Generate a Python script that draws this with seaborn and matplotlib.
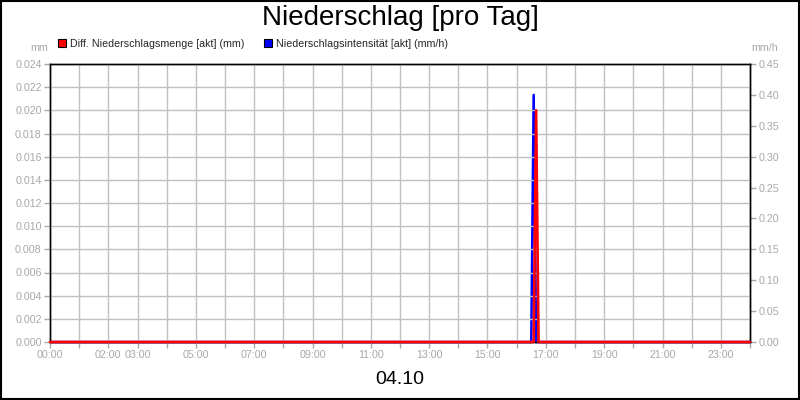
import matplotlib
matplotlib.use("Agg")
import matplotlib.pyplot as plt
import seaborn as sns
import pandas as pd
from matplotlib.patches import Patch, Rectangle

# ---- data ----
time_h = [0.0, 16.5, 16.5833, 16.6667, 16.75, 24.0]          # hours of day 04.10
menge_mm = [0.0, 0.0, 0.0, 0.020, 0.0, 0.0]                   # Diff. Niederschlagsmenge [akt] (mm)
intens_mmh = [0.0, 0.0, 0.40, 0.0, 0.0, 0.0]                  # Niederschlagsintensität [akt] (mm/h)
tick_hours = list(range(0, 25))
label_hours = [0, 2, 3, 5, 7, 9, 11, 13, 15, 17, 19, 21, 23]
left_ticks = [i * 0.002 for i in range(13)]
right_ticks = [i * 0.05 for i in range(10)]

df = pd.DataFrame({"t": time_h, "menge": menge_mm, "intens": intens_mmh})

sns.set_theme(style="white")
plt.rcParams["font.family"] = ["Liberation Sans", "DejaVu Sans"]

GRAY = "#a8a8a8"
FS = 7.7
fig = plt.figure(figsize=(8, 4), dpi=100)
ax = fig.add_axes([50/800, 1 - 342/400, 700/800, 278/400])
ax2 = ax.twinx()

sns.lineplot(data=df, x="t", y="intens", ax=ax2, color="#0000ff", lw=1.8)
sns.lineplot(data=df, x="t", y="menge", ax=ax, color="#ff0000", lw=1.9)
for ln in ax.get_lines() + ax2.get_lines():
    ln.set_clip_on(False)
    ln.set_zorder(5)

ax.set_zorder(ax2.get_zorder() + 1)
ax.patch.set_visible(False)

ax.set_xlim(0, 24)
ax.set_ylim(0, 0.024)
ax2.set_ylim(0, 0.45)
ax.set_xticks(tick_hours)
ax.set_xticklabels([f"{h:02d}:00" if h in label_hours else "" for h in tick_hours])
ax.set_yticks(left_ticks)
ax.set_yticklabels([f"{v:.3f}" for v in left_ticks])
ax2.set_yticks(right_ticks)
ax2.set_yticklabels([f"{v:.2f}" for v in right_ticks])

ax.grid(True, color="#c0c0c0", lw=1)
ax.set_axisbelow(True)
for a in (ax, ax2):
    a.set_xlabel("")
    a.set_ylabel("")
    a.tick_params(axis="both", colors=GRAY, labelcolor=GRAY, labelsize=FS,
                  length=4, width=1, direction="out", pad=2)
    for s in a.spines.values():
        s.set_color("black")
        s.set_linewidth(1)
        s.set_zorder(2)
ax.tick_params(axis="x", bottom=True)
ax2.tick_params(axis="y", right=True)

fig.text(400/800, 1 - 18/400, "Niederschlag [pro Tag]", ha="center", va="center", fontsize=20, color="black")
fig.text(400/800, 1 - 380/400, "04.10", ha="center", va="center", fontsize=14, color="black")
fig.text(48/800, 1 - 48/400, "mm", ha="right", va="center", fontsize=FS, color=GRAY)
fig.text(765/800, 1 - 48/400, "mm/h", ha="center", va="center", fontsize=FS, color=GRAY)

handles = [Patch(facecolor="#ff0000", edgecolor="black", lw=0.8),
           Patch(facecolor="#0000ff", edgecolor="black", lw=0.8)]
labels = ["Diff. Niederschlagsmenge [akt] (mm)", "Niederschlagsintensität [akt] (mm/h)"]
fig.legend(handles, labels, loc="center left", bbox_to_anchor=(58/800, 1 - 44/400),
           ncol=2, frameon=False, fontsize=FS, handlelength=0.75, handleheight=0.75,
           handletextpad=0.35, columnspacing=1.9, borderaxespad=0, borderpad=0)

fig.patches.append(Rectangle((0.001, 0.002), 0.998, 0.996, transform=fig.transFigure,
                             fill=False, edgecolor="black", lw=1.5))

fig.savefig("out.png", dpi=100)
